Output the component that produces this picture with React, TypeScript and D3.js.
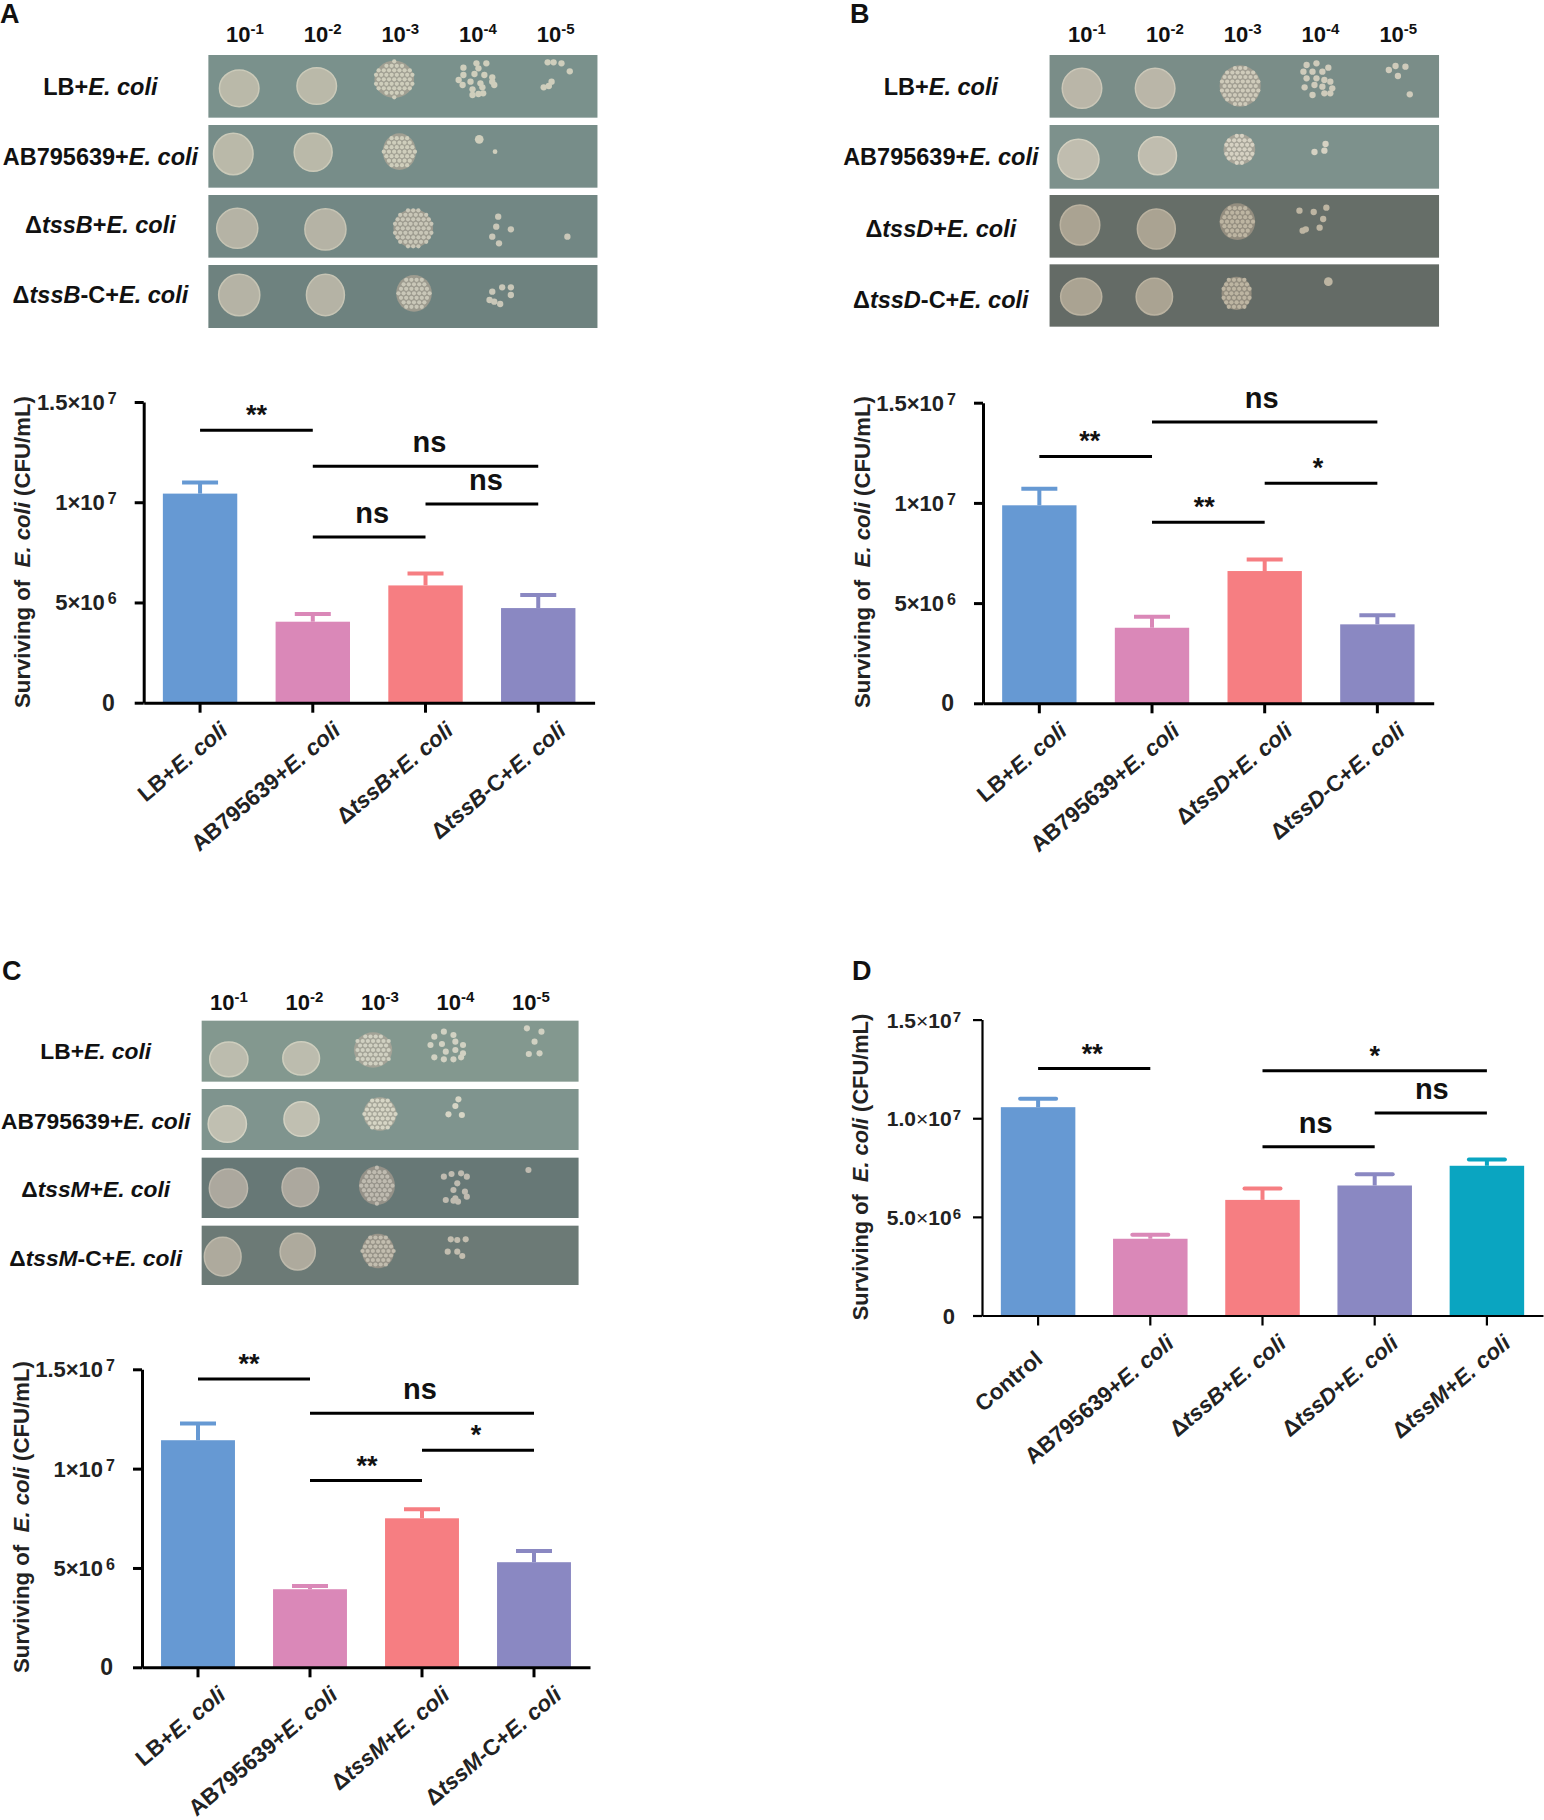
import React, { useEffect, useRef } from 'react';
import * as d3 from 'd3';

// --- bar chart values, "top" is the top of the error bar
const categoriesA = ['LB+_E. coli_', 'AB795639+_E. coli_', 'Δ_tssB_+_E. coli_', 'Δ_tssB_-C+_E. coli_'];
const valuesA = [10.43e6, 4.04e6, 5.85e6, 4.72e6];
const topsA = [10.99e6, 4.42e6, 6.45e6, 5.37e6];
const sigA = [
  { from: 0, to: 1, level: 13.59e6, label: '**' },
  { from: 1, to: 3, level: 11.79e6, label: 'ns' },
  { from: 2, to: 3, level: 9.91e6, label: 'ns' },
  { from: 1, to: 2, level: 8.27e6, label: 'ns' },
];

const categoriesB = ['LB+_E. coli_', 'AB795639+_E. coli_', 'Δ_tssD_+_E. coli_', 'Δ_tssD_-C+_E. coli_'];
const valuesB = [9.88e6, 3.77e6, 6.6e6, 3.94e6];
const topsB = [10.71e6, 4.32e6, 7.18e6, 4.39e6];
const sigB = [
  { from: 1, to: 3, level: 14.04e6, label: 'ns' },
  { from: 0, to: 1, level: 12.32e6, label: '**' },
  { from: 2, to: 3, level: 10.98e6, label: '*' },
  { from: 1, to: 2, level: 9.03e6, label: '**' },
];

const categoriesC = ['LB+_E. coli_', 'AB795639+_E. coli_', 'Δ_tssM_+_E. coli_', 'Δ_tssM_-C+_E. coli_'];
const valuesC = [11.43e6, 3.93e6, 7.5e6, 5.29e6];
const topsC = [12.27e6, 4.09e6, 7.95e6, 5.86e6];
const sigC = [
  { from: 0, to: 1, level: 14.51e6, label: '**' },
  { from: 1, to: 3, level: 12.79e6, label: 'ns' },
  { from: 2, to: 3, level: 10.92e6, label: '*' },
  { from: 1, to: 2, level: 9.4e6, label: '**' },
];

const categoriesD = ['Control', 'AB795639+_E. coli_', 'Δ_tssB_+_E. coli_', 'Δ_tssD_+_E. coli_', 'Δ_tssM_+_E. coli_'];
const valuesD = [10.56e6, 3.89e6, 5.86e6, 6.59e6, 7.59e6];
const topsD = [10.99e6, 4.09e6, 6.44e6, 7.16e6, 7.91e6];
const sigD = [
  { from: 0, to: 1, level: 12.52e6, label: '**' },
  { from: 2, to: 4, level: 12.41e6, label: '*' },
  { from: 3, to: 4, level: 10.27e6, label: 'ns' },
  { from: 2, to: 3, level: 8.56e6, label: 'ns' },
];

const barColors = ['#6699d3', '#da88b8', '#f67e82', '#8a88c2', '#0aa5c1'];
const yTicks = [0, 5e6, 1e7, 1.5e7];
const yLabelsABC = [['0', ''], ['5×10', '6'], ['1×10', '7'], ['1.5×10', '7']];
const yLabelsD = [['0', ''], ['5.0×10', '6'], ['1.0×10', '7'], ['1.5×10', '7']];
const dilutions = ['-1', '-2', '-3', '-4', '-5'];

// --- spot plates. Units are photo units of the crop
// lawns and dense spots: [x, y, rx, ry], colonies: [x, y] or [x, y, r]
const rowLabelsA = categoriesA;
const rowLabelsB = categoriesB;
const rowLabelsC = categoriesC;

const plateRowsA = [
  { top: 165, bottom: 353, fill: '#7a918c', lawn: '#bab9a9', lawns: [[605, 265, 50, 55], [801, 258, 50, 55]], dense: [[997, 238, 50, 56]],
    colonies: [[1230, 190], [1205, 190], [1172, 203], [1210, 205], [1172, 225], [1200, 222], [1225, 225], [1245, 232], [1160, 240], [1190, 245], [1215, 250], [1245, 245], [1170, 255], [1195, 268], [1220, 262], [1250, 255], [1195, 285], [1210, 282], [1222, 280], [1385, 187], [1400, 187], [1420, 190], [1441, 214], [1395, 245], [1388, 258], [1375, 262]] },
  { top: 375, bottom: 563, fill: '#778d89', lawn: '#bab9a9', lawns: [[590, 462, 50, 62], [792, 457, 48, 57]], dense: [[1010, 455, 42, 55]],
    colonies: [[1212, 418, 11], [1252, 455, 6]] },
  { top: 585, bottom: 773, fill: '#728784', lawn: '#b5b3a5', lawns: [[600, 685, 52, 60], [823, 688, 52, 62]], dense: [[1045, 685, 50, 58]],
    colonies: [[1260, 650], [1255, 680], [1292, 688], [1245, 710], [1262, 730], [1435, 710]] },
  { top: 795, bottom: 984, fill: '#6e827f', lawn: '#b5b3a5', lawns: [[605, 885, 52, 62], [823, 885, 48, 62]], dense: [[1047, 880, 45, 55]],
    colonies: [[1270, 862], [1292, 862], [1245, 875], [1292, 885], [1238, 900], [1250, 905], [1265, 912]] },
];

const plateRowsB = [
  { top: 165, bottom: 353, fill: '#7a8d88', lawn: '#bab6a8', lawns: [[612, 265, 50, 60], [797, 265, 50, 60]], dense: [[1012, 258, 52, 62]],
    colonies: [[1180, 195], [1205, 190], [1235, 203], [1172, 215], [1195, 215], [1220, 215], [1180, 235], [1205, 235], [1225, 240], [1240, 245], [1175, 262], [1200, 255], [1220, 260], [1245, 265], [1195, 285], [1225, 280], [1240, 280], [1388, 210], [1405, 198], [1430, 200], [1411, 228], [1441, 283]] },
  { top: 375, bottom: 566, fill: '#7d918c', lawn: '#c0bdaf', lawns: [[603, 478, 52, 60], [803, 467, 48, 57]], dense: [[1010, 448, 40, 46]],
    colonies: [[1228, 432], [1225, 452], [1200, 456]] },
  { top: 585, bottom: 773, fill: '#666e68', lawn: '#aaa392', lawns: [[607, 675, 50, 60], [800, 687, 48, 60]], dense: [[1005, 665, 45, 55]],
    colonies: [[1162, 632], [1198, 636], [1230, 623], [1222, 657], [1178, 688], [1213, 683], [1170, 692]] },
  { top: 793, bottom: 980, fill: '#646b66', lawn: '#aaa392', lawns: [[610, 890, 52, 55], [795, 890, 46, 55]], dense: [[1003, 880, 38, 50]],
    colonies: [[1235, 845, 11]] },
];

const plateRowsC = [
  { top: 212, bottom: 395, fill: '#83988f', lawn: '#bcbcae', lawns: [[598, 328, 50, 52], [787, 325, 48, 50]], dense: [[975, 300, 50, 53]],
    colonies: [[1160, 245], [1135, 260], [1185, 255], [1125, 285], [1155, 282], [1190, 275], [1210, 285], [1135, 322], [1165, 305], [1190, 300], [1210, 310], [1160, 328], [1185, 328], [1205, 322], [1377, 235], [1415, 245], [1397, 275], [1382, 312], [1410, 310]] },
  { top: 417, bottom: 600, fill: '#7f948e', lawn: '#c0bfb1', lawns: [[594, 522, 50, 55], [788, 507, 46, 52]], dense: [[993, 492, 43, 50]],
    colonies: [[1198, 448], [1190, 468], [1172, 493], [1207, 495]] },
  { top: 623, bottom: 804, fill: '#677876', lawn: '#aca89e', lawns: [[597, 715, 50, 58], [785, 712, 48, 58]], dense: [[985, 707, 47, 58]],
    colonies: [[1160, 680], [1180, 672], [1205, 670], [1220, 680], [1195, 700], [1185, 720], [1215, 725], [1220, 740], [1190, 745], [1165, 750], [1185, 752], [1197, 755], [1381, 660]] },
  { top: 827, bottom: 1005, fill: '#6c7a76', lawn: '#aeaa9d', lawns: [[582, 920, 48, 58], [778, 905, 46, 55]], dense: [[988, 903, 42, 52]],
    colonies: [[1178, 868], [1195, 870], [1217, 868], [1170, 905], [1195, 905], [1208, 918]] },
];

const FONT = '"Liberation Sans", Arial, sans-serif';

// "_" toggles italics in a label
function addRich(text: d3.Selection<any, any, any, any>, label: string) {
  label.split('_').forEach((part, i) => {
    if (part) text.append('tspan').attr('font-style', i % 2 ? 'italic' : 'normal').text(part);
  });
}

function drawPlate(svg: any, cfg: any) {
  const g = svg.append('g');
  const px = d3.scaleLinear().domain([0, 1568]).range([cfg.cropX, cfg.cropX + cfg.cropW]);
  const py = d3.scaleLinear().domain([0, 3]).range([cfg.cropY, cfg.cropY + 1]);
  const sx = cfg.cropW / 1568;

  // dilution headers
  const dil = d3.scalePoint<string>().domain(dilutions).range(cfg.dilRange);
  dilutions.forEach(d => {
    const t = g.append('text').attr('x', dil(d)).attr('y', cfg.dilY)
      .attr('text-anchor', 'middle').attr('font-family', FONT)
      .attr('font-weight', 700).attr('font-size', 22).attr('fill', '#111');
    t.append('tspan').text('10');
    t.append('tspan').attr('font-size', 15).attr('dy', -8).text(d);
  });

  cfg.rows.forEach((row: any, i: number) => {
    const x0 = px(cfg.left), x1 = px(cfg.right), y0 = py(row.top), y1 = py(row.bottom);
    g.append('rect').attr('x', x0).attr('y', y0).attr('width', x1 - x0).attr('height', y1 - y0).attr('fill', row.fill);

    const photo = g.append('g').attr('filter', 'url(#photoBlur)');
    const rim = d3.color(row.lawn)!.brighter(0.25).formatHex();
    row.lawns.forEach((s: number[]) => {
      photo.append('ellipse').attr('cx', px(s[0])).attr('cy', py(s[1])).attr('rx', s[2] * sx).attr('ry', s[3] / 3)
        .attr('fill', row.lawn).attr('stroke', rim).attr('stroke-width', 1.5);
    });
    // dense spots: a disc with a regular texture of lighter colonies
    row.dense.forEach((s: number[]) => {
      const cx = px(s[0]), cy = py(s[1]), rx = s[2] * sx, ry = s[3] / 3;
      photo.append('ellipse').attr('cx', cx).attr('cy', cy).attr('rx', rx).attr('ry', ry)
        .attr('fill', d3.color(row.lawn)!.darker(0.4).formatHex());
      d3.range(-6, 7).forEach(a => d3.range(-6, 7).forEach(b => {
        const dx = (a + (b % 2 ? 0.5 : 0)) * 5.2, dy = b * 4.5;
        if ((dx * dx) / (rx * rx) + (dy * dy) / (ry * ry) > 0.95) return;
        photo.append('circle').attr('cx', cx + dx).attr('cy', cy + dy).attr('r', 2.1)
          .attr('fill', d3.color(row.lawn)!.brighter(0.3).formatHex());
      }));
    });
    row.colonies.forEach((c: number[]) => {
      photo.append('circle').attr('cx', px(c[0])).attr('cy', py(c[1])).attr('r', (c[2] || 8) * sx)
        .attr('fill', d3.color(row.lawn)!.brighter(0.3).formatHex());
    });

    const t = g.append('text').attr('x', cfg.labelX).attr('y', cfg.labelY[i])
      .attr('text-anchor', 'middle').attr('font-family', FONT)
      .attr('font-weight', 700).attr('font-size', cfg.labelSize).attr('fill', '#111');
    addRich(t, cfg.labels[i]);
  });
}

function drawChart(svg: any, cfg: any) {
  const g = svg.append('g').attr('font-family', FONT);
  const y = d3.scaleLinear().domain([0, 1.5e7]).range(cfg.yRange);
  const x = d3.scaleBand<string>().domain(cfg.categories).range(cfg.xRange)
    .paddingInner(cfg.padding).paddingOuter(cfg.padding / 2);
  const cx = (i: number) => x(cfg.categories[i])! + x.bandwidth() / 2;

  // bars and error bars
  cfg.categories.forEach((c: string, i: number) => {
    const color = barColors[i];
    g.append('rect').attr('x', x(c)).attr('y', y(cfg.values[i]))
      .attr('width', x.bandwidth()).attr('height', y(0) - y(cfg.values[i])).attr('fill', color);
    g.append('line').attr('x1', cx(i)).attr('x2', cx(i)).attr('y1', y(cfg.values[i])).attr('y2', y(cfg.tops[i]))
      .attr('stroke', color).attr('stroke-width', cfg.stem);
    g.append('line').attr('x1', cx(i) - 18).attr('x2', cx(i) + 18).attr('y1', y(cfg.tops[i])).attr('y2', y(cfg.tops[i]))
      .attr('stroke', color).attr('stroke-width', 4).attr('stroke-linecap', cfg.capStyle);
  });

  // axes
  const axisY = g.append('g').attr('transform', `translate(${cfg.xRange[0]},0)`)
    .call(d3.axisLeft(y).tickValues(yTicks).tickSize(9).tickSizeOuter(0).tickFormat(() => ''));
  const axisX = g.append('g').attr('transform', `translate(0,${cfg.yRange[0]})`)
    .call(d3.axisBottom(x).tickSize(10).tickSizeOuter(0).tickFormat(() => ''));
  [axisY, axisX].forEach(a => {
    a.selectAll('path,line').attr('stroke', '#000').attr('stroke-width', cfg.axisWidth);
  });

  // y tick labels
  yTicks.forEach((v, i) => {
    const [base, sup] = cfg.yLabels[i];
    const t = g.append('text').attr('x', cfg.xRange[0] - cfg.labelGap - (sup ? 0 : cfg.zeroGap)).attr('y', y(v) + 8)
      .attr('text-anchor', 'end').attr('font-weight', 700).attr('font-size', sup ? cfg.tickSize : cfg.tickSize + 1).attr('fill', '#222');
    if (cfg.thinTimes && sup) {
      const [a, b] = base.split('×');
      t.append('tspan').text(a);
      t.append('tspan').attr('font-weight', 400).text('×');
      t.append('tspan').text(b);
    } else {
      t.append('tspan').text(base);
    }
    if (sup) t.append('tspan').attr('font-size', cfg.supSize).attr('dx', cfg.supGap).attr('dy', -6).text(sup);
  });

  // rotated category labels, ending just under the tick
  cfg.categories.forEach((c: string, i: number) => {
    const shift = cfg.labelShift ? cfg.labelShift[i] : 0;
    const t = g.append('text').attr('text-anchor', 'end')
      .attr('transform', `translate(${cx(i) + cfg.labelDx},${cfg.yRange[0] + 30}) rotate(-40) translate(${shift},0)`)
      .attr('font-weight', 700).attr('font-size', 22.4).attr('fill', '#222');
    addRich(t, c);
  });

  // y title
  const title = g.append('text').attr('text-anchor', 'middle')
    .attr('transform', `translate(${cfg.titleX},${cfg.titleY}) rotate(-90)`)
    .attr('font-weight', 700).attr('font-size', cfg.titleSize).attr('fill', '#222')
    .attr('xml:space', 'preserve');
  addRich(title, 'Surviving of  _E. coli_ (CFU/mL)');

  // significance brackets
  cfg.sig.forEach((s: any, i: number) => {
    const ly = y(s.level);
    g.append('line').attr('x1', cx(s.from)).attr('x2', cx(s.to)).attr('y1', ly).attr('y2', ly)
      .attr('stroke', '#000').attr('stroke-width', 3);
    const isNs = s.label === 'ns';
    g.append('text').attr('x', (cx(s.from) + cx(s.to)) / 2 + 2 + cfg.sigShift[i]).attr('y', ly + (isNs ? -14 : -6))
      .attr('text-anchor', 'middle').attr('font-weight', 700).attr('font-size', isNs ? 29 : 27).attr('fill', '#111')
      .text(s.label);
  });
}

const App: React.FC = () => {
  const svgRef = useRef<SVGSVGElement | null>(null);

  useEffect(() => {
    if (!svgRef.current) return;
    const svg = d3.select(svgRef.current);
    svg.selectAll('*').remove();

    svg.append('defs').append('filter').attr('id', 'photoBlur')
      .append('feGaussianBlur').attr('stdDeviation', 0.7);

    // panel letters
    [['A', 0, 23], ['B', 850, 23], ['C', 2, 980], ['D', 852, 980]].forEach(([l, px, py]) => {
      svg.append('text').attr('x', px).attr('y', py).attr('font-family', FONT)
        .attr('font-weight', 700).attr('font-size', 27).attr('fill', '#111').text(l as string);
    });

    drawPlate(svg, { cropX: 0, cropW: 620, cropY: 0, left: 527, right: 1511, rows: plateRowsA, labels: rowLabelsA, labelSize: 23.5,
      dilRange: [245, 555.6], dilY: 42, labelX: 100.4, labelY: [95, 165, 233, 303] });
    drawPlate(svg, { cropX: 840, cropW: 620, cropY: 0, left: 530, right: 1515, rows: plateRowsB, labels: rowLabelsB, labelSize: 23.5,
      dilRange: [1087, 1398.3], dilY: 42, labelX: 940.8, labelY: [95, 165, 236.7, 308] });
    drawPlate(svg, { cropX: 0, cropW: 600, cropY: 950, left: 527, right: 1512, rows: plateRowsC, labels: rowLabelsC, labelSize: 22.8,
      dilRange: [229, 531], dilY: 1010, labelX: 95.7, labelY: [1059, 1128.5, 1197, 1266] });

    const common = { padding: 0.34, stem: 4, capStyle: 'butt', axisWidth: 3, tickSize: 22, supSize: 16, supGap: 3, labelGap: 27, zeroGap: 2, titleSize: 22.2, labelDx: 29, yLabels: yLabelsABC };
    drawChart(svg, { ...common, categories: categoriesA, values: valuesA, tops: topsA, sig: sigA, sigShift: [-2, 2, 2, 1],
      xRange: [143.7, 594.6], yRange: [702.7, 402], titleX: 30, titleY: 552 });
    drawChart(svg, { ...common, categories: categoriesB, values: valuesB, tops: topsB, sig: sigB, sigShift: [-5, -8, -5, -6],
      xRange: [983, 1433.7], yRange: [703.3, 402.7], titleX: 870, titleY: 552 });
    drawChart(svg, { ...common, categories: categoriesC, values: valuesC, tops: topsC, sig: sigC, sigShift: [-7, -4, -4, -1],
      xRange: [142, 590], yRange: [1667.3, 1369.3], titleX: 29, titleY: 1517 });
    drawChart(svg, { ...common, categories: categoriesD, values: valuesD, tops: topsD, sig: sigD, sigShift: [-4, -2, -1, -5], padding: 0.336,
      capStyle: 'round', axisWidth: 2.2, labelGap: 21, zeroGap: 6, yLabels: yLabelsD, tickSize: 21, supSize: 15, supGap: 1, thinTimes: true, labelDx: 25, titleSize: 21.8,
      labelShift: [-25, 0, 0, 0, 0], xRange: [982, 1543], yRange: [1315.5, 1019.6], titleX: 868, titleY: 1167 });
  }, []);

  return (
    <div style={{ position: 'absolute', left: 0, top: 0 }}>
      <svg ref={svgRef} width={1544} height={1820} style={{ display: 'block', background: '#fff' }} />
    </div>
  );
};

export default App;
